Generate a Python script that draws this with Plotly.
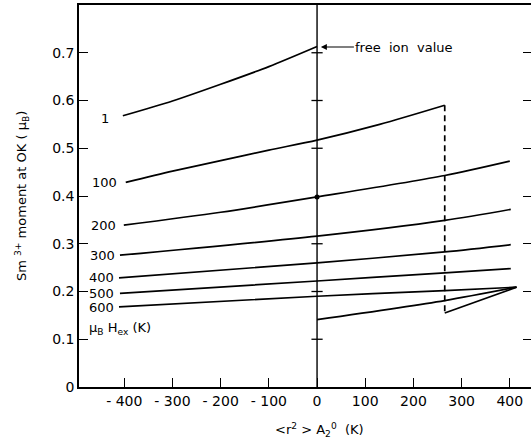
import plotly.graph_objects as go

# ---- data ----
h1_x = [-403, -300, -200, -100, 0]
h1_y = [0.568, 0.599, 0.634, 0.671, 0.713]
h1_pos_x = [0, 265, 414]
h1_pos_y = [0.141, 0.181, 0.209]

h100_x = [-397, -300, -200, -100, 0, 130, 265]
h100_y = [0.4285, 0.452, 0.474, 0.496, 0.517, 0.550, 0.590]
h100_jump_x = [265, 265]
h100_jump_y = [0.590, 0.155]
h100_pos_x = [265, 414]
h100_pos_y = [0.155, 0.209]

h200_x = [-401, -200, 0, 265, 400]
h200_y = [0.339, 0.366, 0.398, 0.443, 0.473]
h300_x = [-409, 0, 265, 402]
h300_y = [0.276, 0.316, 0.349, 0.372]
h400_x = [-411, 0, 265, 402]
h400_y = [0.2285, 0.260, 0.283, 0.298]
h500_x = [-409, 0, 265, 402]
h500_y = [0.196, 0.222, 0.239, 0.248]
h600_x = [-411, 0, 265, 414]
h600_y = [0.168, 0.190, 0.202, 0.209]

curve_labels = ["1", "100", "200", "300", "400", "500", "600"]
label_x = [-428, -411, -413, -415, -417, -417, -417]
label_y = [0.563, 0.429, 0.339, 0.275, 0.229, 0.196, 0.166]

x_tickvals = [-400, -300, -200, -100, 0, 100, 200, 300, 400]
x_ticktext = ["- 400", "- 300", "- 200", "- 100", "0", "100", "200", "300", "400"]
y_tickvals = [0, 0.1, 0.2, 0.3, 0.4, 0.5, 0.6, 0.7]
y_ticktext = ["0", "0.1", "0.2", "0.3", "0.4", "0.5", "0.6", "0.7"]

zero_line_x = [0, 0]
zero_line_y = [0, 0.8]
zero_ticks_y = [0.1, 0.2, 0.3, 0.5, 0.6, 0.7]
zero_dot_y = [0.398]

FONT = "DejaVu Sans"
LW = 1.7

fig = go.Figure()

def line(x, y, dash="solid", width=LW, shape="linear"):
    fig.add_trace(go.Scatter(x=x, y=y, mode="lines",
                             line=dict(color="black", width=width, dash=dash, shape=shape, smoothing=0.8),
                             showlegend=False, hoverinfo="skip"))

line(zero_line_x, zero_line_y, width=1.4)
fig.add_trace(go.Scatter(x=[0] * len(zero_ticks_y), y=zero_ticks_y, mode="markers",
                         marker=dict(symbol="line-ew", size=8, line=dict(color="black", width=1.3)),
                         showlegend=False, hoverinfo="skip"))
fig.add_trace(go.Scatter(x=[0], y=zero_dot_y, mode="markers",
                         marker=dict(symbol="circle", size=5, color="black"),
                         showlegend=False, hoverinfo="skip"))
# invisible trace so the right-hand tick axis is drawn
fig.add_trace(go.Scatter(x=zero_line_x, y=zero_line_y, yaxis="y2", mode="lines", opacity=0,
                         showlegend=False, hoverinfo="skip"))

line(h1_x, h1_y, shape="spline")
line(h1_pos_x, h1_pos_y, shape="spline")
line(h100_x, h100_y, shape="spline")
line(h100_jump_x, h100_jump_y, dash="6px,4px")
line(h100_pos_x, h100_pos_y)
line(h200_x, h200_y, shape="spline")
line(h300_x, h300_y, shape="spline")
line(h400_x, h400_y, shape="spline")
line(h500_x, h500_y, shape="spline")
line(h600_x, h600_y, shape="spline")

annotations = []
for t, lx, ly in zip(curve_labels, label_x, label_y):
    annotations.append(dict(x=lx, y=ly, text=t, showarrow=False, xanchor="right", yanchor="middle",
                            font=dict(family=FONT, size=13, color="black")))
annotations.append(dict(x=-478, y=0.123, text="μ<sub>B</sub> H<sub>ex</sub> (K)", showarrow=False,
                        xanchor="left", yanchor="middle", font=dict(family=FONT, size=13, color="black")))
annotations.append(dict(x=8, y=0.712, text="free  ion  value", showarrow=True, ax=83, ay=0,
                        arrowhead=2, arrowsize=1, arrowwidth=1.2, arrowcolor="black", standoff=0,
                        font=dict(family=FONT, size=13, color="black")))
# y-axis title
annotations.append(dict(x=0, y=0.5, xref="paper", yref="paper", xshift=-57, textangle=-90,
                        text="Sm <sup>3+</sup> moment at OK ( μ<sub>B</sub>)", showarrow=False,
                        xanchor="center", yanchor="middle", font=dict(family=FONT, size=13, color="black")))
# x-axis title
annotations.append(dict(x=0.5327, y=0, xref="paper", yref="paper", yshift=-43,
                        text="&lt;r<sup>2</sup> &gt; A<sub>2</sub><sup>0</sup>  (K)", showarrow=False,
                        xanchor="center", yanchor="middle", font=dict(family=FONT, size=13, color="black")))

fig.update_layout(
    width=531, height=445,
    margin=dict(l=79, r=0, t=5, b=58, autoexpand=False),
    paper_bgcolor="white", plot_bgcolor="white",
    font=dict(family=FONT, size=13, color="black"),
    annotations=annotations,
    xaxis=dict(range=[-494, 444], tickvals=x_tickvals, ticktext=x_ticktext, ticks="inside", ticklen=9,
               tickwidth=1.3, tickcolor="black", showline=True, linecolor="black", linewidth=1.5,
               mirror=True, showgrid=False, zeroline=False, automargin=False,
               tickfont=dict(family=FONT, size=14)),
    yaxis=dict(range=[0, 0.8], tickvals=y_tickvals, ticktext=y_ticktext, ticks="inside", ticklen=9,
               tickwidth=1.3, tickcolor="black", showline=True, linecolor="black", linewidth=1.5,
               mirror=False, showgrid=False, zeroline=False, automargin=False,
               tickfont=dict(family=FONT, size=14)),
    yaxis2=dict(range=[0, 0.8], overlaying="y", side="right", tickvals=y_tickvals[1:],
                ticks="inside", ticklen=8, tickwidth=1.3, tickcolor="black", showticklabels=False,
                showline=False, showgrid=False, zeroline=False, automargin=False),
)

fig.write_html("out.html", config={"displayModeBar": False},
               post_script="document.body.style.margin='0px';")
